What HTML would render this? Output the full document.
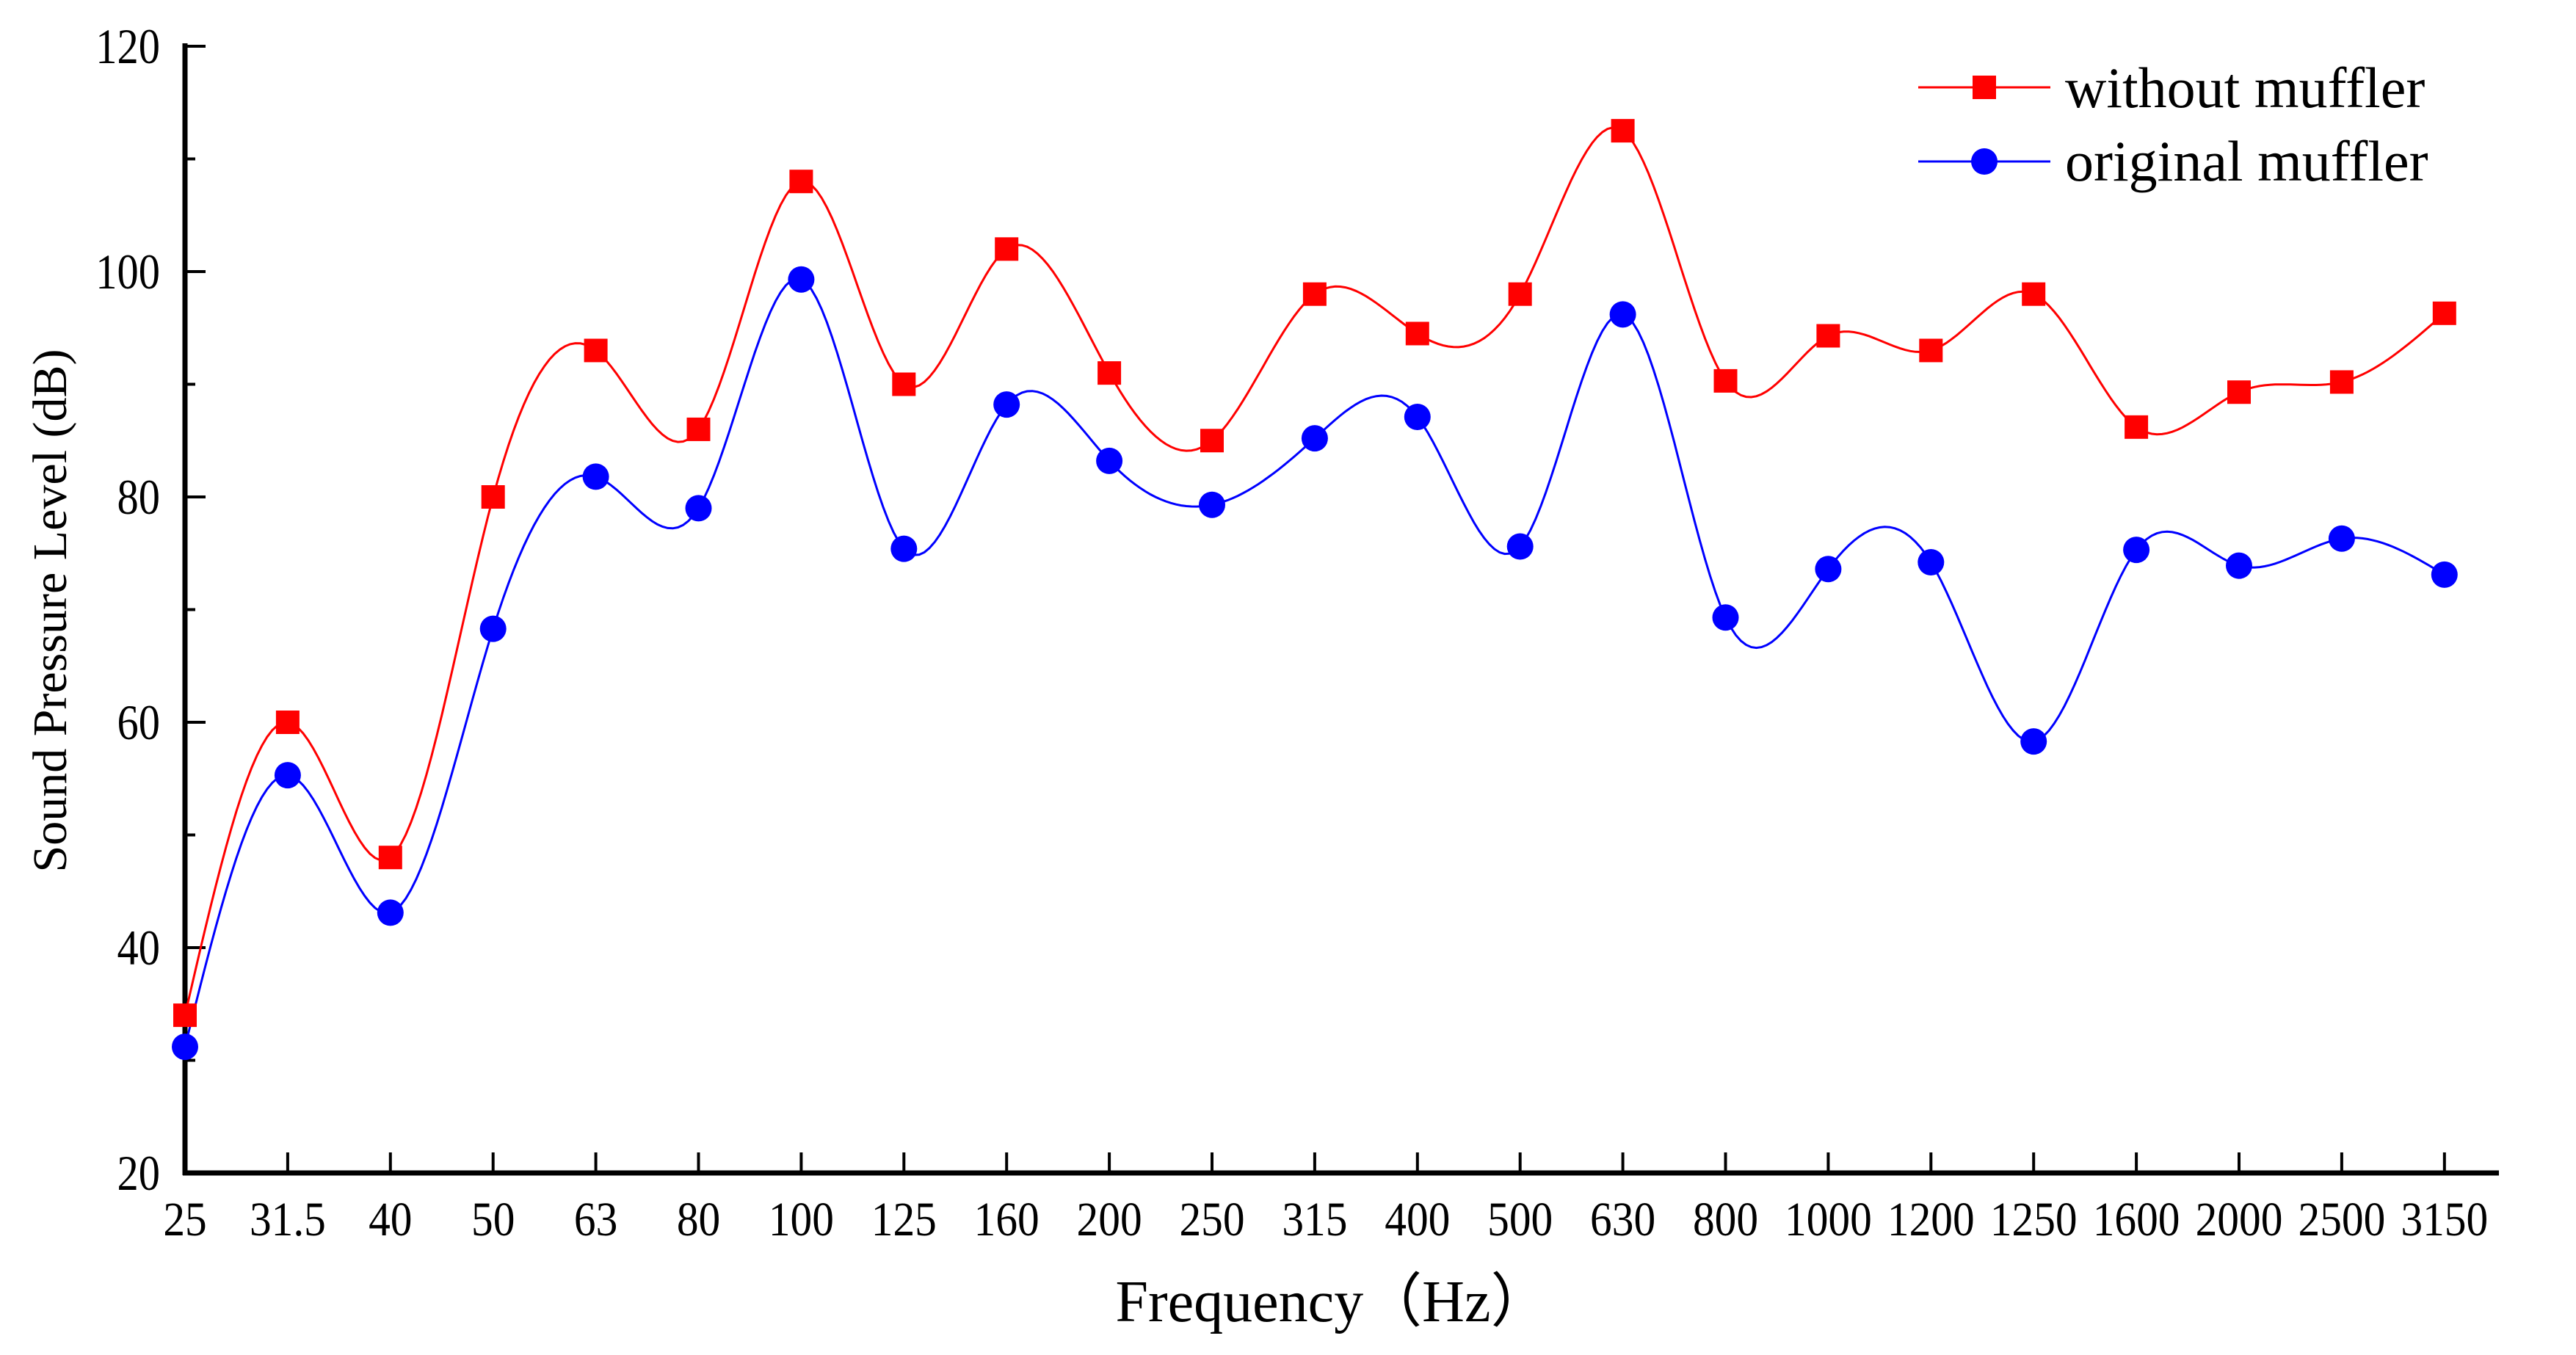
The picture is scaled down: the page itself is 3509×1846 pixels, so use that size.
<!DOCTYPE html>
<html><head><meta charset="utf-8"><style>html,body{margin:0;padding:0;background:#fff}svg{display:block}</style></head>
<body>
<svg id="chart" width="3509" height="1846" viewBox="0 0 3509 1846" xmlns="http://www.w3.org/2000/svg" font-family="'Liberation Serif', serif">
<g id="axes"></g>
<g id="series"></g>
<text transform="translate(90,832) rotate(-90)" text-anchor="middle" font-size="66">Sound Pressure Level (dB)</text>
<text x="1815" y="1800" text-anchor="middle" font-size="80">Frequency（Hz）</text>
<g>
<line x1="2613" y1="119" x2="2793" y2="119" stroke="#ff0000" stroke-width="3"/>
<rect x="2687" y="103" width="32" height="32" fill="#ff0000"/>
<text x="2813" y="146" font-size="78">without muffler</text>
<line x1="2613" y1="220" x2="2793" y2="220" stroke="#0000ff" stroke-width="3"/>
<circle cx="2703" cy="220" r="18" fill="#0000ff"/>
<text x="2813" y="246" font-size="78">original muffler</text>
</g>
</svg>
<script>
const categories = ["25","31.5","40","50","63","80","100","125","160","200","250","315","400","500","630","800","1000","1200","1250","1600","2000","2500","3150"];
const withoutMuffler = [34,60,48,80,93,86,108,90,102,91,85,98,94.5,98,112.5,90.3,94.3,93,98,86.2,89.3,90.2,96.3];
const originalMuffler = [31.2,55.3,43.1,68.3,81.8,79,99.3,75.4,88.2,83.2,79.3,85.2,87.1,75.6,96.2,69.3,73.6,74.2,58.3,75.3,73.9,76.3,73.1];
const yTicks = [20,40,60,80,100,120];

const NS = "http://www.w3.org/2000/svg";
const X0 = 252, XSTEP = 139.9, Y20 = 1598, Y120 = 63;
function xs(i){ return X0 + i*XSTEP; }
function ys(v){ return Y20 - (v-20)/100*(Y20-Y120); }
function mk(tag, attrs, parent){ const e=document.createElementNS(NS,tag); for(const k in attrs) e.setAttribute(k,attrs[k]); parent.appendChild(e); return e; }

const axes = document.getElementById('axes');
let yAxis = mk('line',{x1:X0,y1:Y120-4,x2:X0,y2:Y20+3,stroke:'#000','stroke-width':7},axes);


let xAxis = mk('line',{x1:X0-3,y1:Y20,x2:3404,y2:Y20,stroke:'#000','stroke-width':7},axes);


for(let v=20; v<=120; v+=10){
  const major = v%20===0;
  const t = mk('line',{x1:X0,y1:ys(v),x2:X0+(major?28:14),y2:ys(v),stroke:'#000','stroke-width':4},axes);
  
  
}
yTicks.forEach(v=>{
  const t = mk('text',{transform:`translate(218,${ys(v)+23}) scale(0.86,1)`,'text-anchor':'end','font-size':68},axes);
  t.textContent = v;
  
  
});
categories.forEach((c,i)=>{
  if(i>0){
    const t = mk('line',{x1:xs(i),y1:Y20,x2:xs(i),y2:Y20-28,stroke:'#000','stroke-width':4},axes);
    
    
  }
  const l = mk('text',{transform:`translate(${xs(i)},1683) scale(0.9,1)`,'text-anchor':'middle','font-size':66},axes);
  l.textContent = c;
  
  
});

function spline(vals){
  const n=vals.length, y=vals.map(ys);
  const a=new Array(n).fill(0), b=new Array(n).fill(0), c=new Array(n).fill(0), d=new Array(n).fill(0), m=new Array(n).fill(0);
  for(let i=1;i<n-1;i++){ a[i]=1; b[i]=4; c[i]=1; d[i]=6*(y[i+1]-2*y[i]+y[i-1]); }
  b[0]=1; b[n-1]=1;
  for(let i=1;i<n;i++){ const w=a[i]/b[i-1]; b[i]-=w*c[i-1]; d[i]-=w*d[i-1]; }
  m[n-1]=d[n-1]/b[n-1];
  for(let i=n-2;i>=0;i--) m[i]=(d[i]-c[i]*m[i+1])/b[i];
  let p = `M${xs(0)},${y[0]}`;
  for(let i=0;i<n-1;i++){
    for(let k=1;k<=20;k++){
      const t=k/20;
      const v=(1-t)*y[i]+t*y[i+1]+((1-t)**3-(1-t))*m[i]/6+(t**3-t)*m[i+1]/6;
      p+=` L${(xs(i)+t*XSTEP).toFixed(1)},${v.toFixed(1)}`;
    }
  }
  return p;
}
const series = document.getElementById('series');
const lr = mk('path',{d:spline(withoutMuffler),fill:'none',stroke:'#ff0000','stroke-width':3},series);


const lb = mk('path',{d:spline(originalMuffler),fill:'none',stroke:'#0000ff','stroke-width':3},series);


withoutMuffler.forEach((v,i)=>{
  const r = mk('rect',{x:xs(i)-16,y:ys(v)-16,width:32,height:32,fill:'#ff0000'},series);
  
  
});
originalMuffler.forEach((v,i)=>{
  const ci = mk('circle',{cx:xs(i),cy:ys(v),r:18,fill:'#0000ff'},series);
  
  
});
</script>
</body></html>
